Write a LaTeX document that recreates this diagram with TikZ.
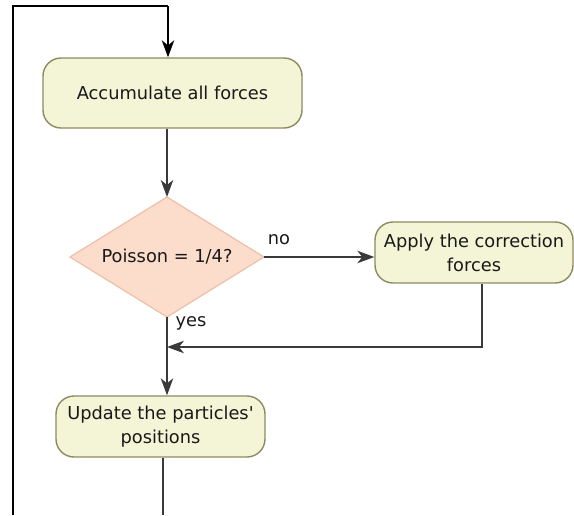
\documentclass[tikz,border=0pt]{standalone}
\usepackage{fontspec}
\newfontfamily\dv{DejaVu Sans}
\usetikzlibrary{arrows.meta}
\definecolor{boxfill}{HTML}{F4F5D6}
\definecolor{boxline}{HTML}{8E8A60}
\definecolor{dfill}{HTML}{FCDDCB}
\definecolor{dline}{HTML}{EBC0A8}
\definecolor{conn}{HTML}{3A3A3A}
\tikzset{
  x=1pt,y=1pt,
  every node/.style={font=\dv\fontsize{17.8}{24}\selectfont, text=black!90},
  stepbox/.style={draw=boxline, fill=boxfill, line width=1.4pt, rounded corners=18pt, align=center, inner sep=0pt},
  conn/.style={draw=conn, line width=1.3pt, -{Stealth[length=17pt,width=12.5pt,inset=5pt]}},
  plain/.style={draw=conn, line width=1.3pt},
  lbl/.style={inner sep=0pt}
}
\begin{document}
\begin{tikzpicture}
\useasboundingbox (0,0) rectangle (574,-515);
\node[stepbox, minimum width=259pt, minimum height=70pt] (acc) at (172.5,-93) {Accumulate all forces};
\path[draw=dline, fill=dfill, line width=1.2pt] (70,-257) -- (167,-197) -- (264,-257) -- (167,-317) -- cycle;
\node[inner sep=0pt] (dectext) at (167,-257) {Poisson = 1/4?};
\coordinate (dtop) at (167,-197);
\coordinate (dright) at (264,-257);
\coordinate (dbottom) at (167,-317);
\node[stepbox, minimum width=198pt, minimum height=61pt] (app) at (474,-252.5) {Apply the correction\\forces};
\node[stepbox, minimum width=209pt, minimum height=61pt] (upd) at (160.5,-426.5) {Update the particles'\\positions};
\node[lbl] (no) at (279,-240) {no};
\node[lbl] (yes) at (191,-323) {yes};
\coordinate (tl) at (13,-6);
\coordinate (tr) at (168,-6);
\coordinate (bl) at (13,-515);
\coordinate (join) at (167,-347);
\coordinate (appdown) at (482,-347);
\coordinate (bottom) at (163,-515);
% back loop frame
\draw[black, line width=1.5pt] (bl) -- (tl) -- (tr);
\draw[conn, draw=black] (tr) -- (tr |- acc.north);
\draw[conn] (acc.south -| dtop) -- (dtop);
\draw[conn] (dright) -- (app.west |- dright);
\draw[conn] (dbottom) -- (upd.north -| dbottom);
\draw[conn] (app.south -| appdown) -- (appdown) -- (join);
\draw[plain] (upd.south -| bottom) -- (bottom);
\end{tikzpicture}
\end{document}
